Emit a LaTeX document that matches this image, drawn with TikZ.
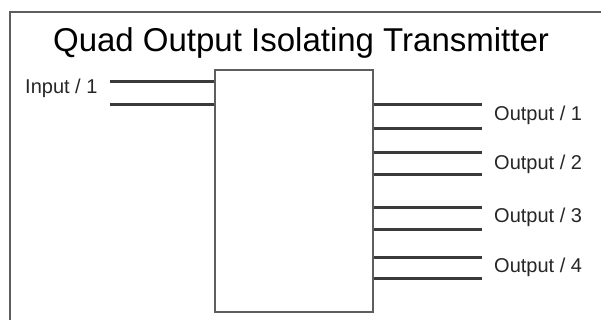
\documentclass[tikz,border=0pt]{standalone}
\usepackage{fontspec}
\setmainfont{Liberation Sans}
\usetikzlibrary{positioning}
\definecolor{wire}{HTML}{3A3A3A}
\definecolor{edge}{HTML}{5E5E5E}

\begin{document}
\begin{tikzpicture}[x=1pt,y=-1pt,
    lead/.style={draw=wire, line width=3pt},
    pin/.style={inner sep=0pt, anchor=west, text=black!85, font=\fontsize{20}{24}\selectfont}]
      \useasboundingbox (0,0) rectangle (601,320);
      \draw[edge, line width=2.6pt] (10,320) -- (10,12) -- (601,12);
      \node[font=\fontsize{33}{40}\selectfont] (Title) at (301,43) {Quad Output Isolating Transmitter};
      \node[draw=edge, line width=2.6pt, minimum width=158pt, minimum height=242pt, inner sep=0pt] (Tx) at (294,191) {};
      % input side
      \node[pin] (In1) at (25,88) {Input / 1};
      \coordinate (InA) at (110,82);
      \coordinate (InB) at (110,105);
      \draw[lead] (InA) -- (InA -| Tx.west);
      \draw[lead] (InB) -- (InB -| Tx.west);
      % output side
      \foreach \n/\ya/\yb/\yl in {1/105/129/115, 2/153/175/164, 3/207/229/217, 4/257/278/267} {
        \coordinate (OutA\n) at (482,\ya);
        \coordinate (OutB\n) at (482,\yb);
        \node[pin] (Out\n) at (494,\yl) {Output / \n};
        \draw[lead] (Tx.east |- OutA\n) -- (OutA\n);
        \draw[lead] (Tx.east |- OutB\n) -- (OutB\n);
      }
    \end{tikzpicture}
\end{document}
